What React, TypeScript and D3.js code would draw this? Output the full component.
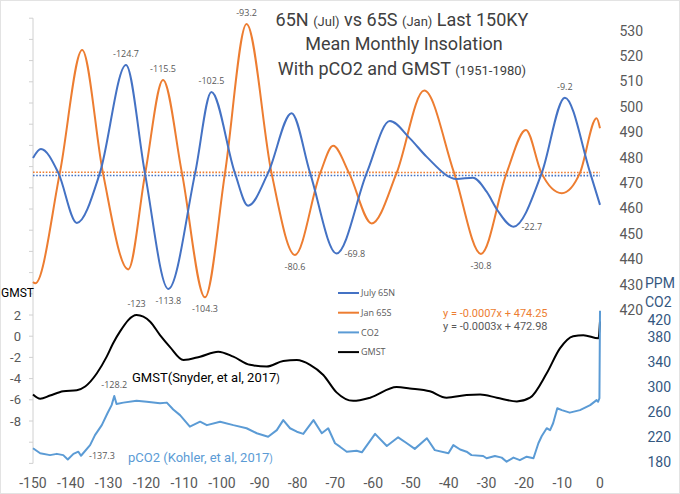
import * as d3 from 'd3';

// time in kyr (negative = before present)
const july65N: [number, number][] = [
  [-150, 479.9], [-147.9, 483.4], [-143.3, 474], [-138.4, 454.3], [-132.3, 474],
  [-125.4, 516.5], [-120.4, 474], [-114.2, 428.3], [-107.1, 474], [-102.8, 505.9],
  [-96.6, 474], [-93.1, 461.1], [-87.8, 474], [-81.6, 497.5], [-76.7, 474],
  [-69.7, 442.3], [-61.7, 474], [-55.6, 494.4], [-50.3, 487.6], [-45.9, 480.4],
  [-37.9, 471.6], [-33.6, 472.1], [-30, 466.6], [-27, 459], [-22.9, 452.8],
  [-15.4, 474], [-9.3, 503.6], [-2.6, 474], [0, 461.4],
];

const jan65S: [number, number][] = [
  [-150, 431], [-149.4, 430.5], [-142.9, 474], [-137, 522.4], [-131.5, 474],
  [-124.8, 436], [-120.3, 474], [-115.6, 510.6], [-110.6, 474], [-104.5, 425],
  [-99.2, 474], [-93.5, 532.6], [-86.9, 474], [-80.7, 441.7], [-74, 474],
  [-70.6, 484.7], [-66.4, 474], [-60.4, 454.1], [-53.8, 474], [-46.5, 506.4],
  [-38.6, 474], [-31.5, 442.1], [-24.7, 474], [-19.6, 490.9], [-15.5, 474],
  [-10.1, 466], [-5.3, 474], [-0.9, 495.5], [0, 491.6],
];

const gmst: [number, number][] = [
  [-150, -5.5], [-148.1, -5.9], [-145.5, -5.6], [-142, -5.2], [-138.4, -5.1],
  [-136.2, -4.75], [-133.1, -3.5], [-130.5, -1.93], [-128.8, -0.67], [-127, 0.43],
  [-122.6, 2.0], [-119, 1.37], [-116.4, 0.1], [-113.8, -1.0], [-110.2, -2.25],
  [-105.8, -1.93], [-101, -1.46], [-97, -1.93], [-92.6, -2.7], [-88.2, -2.87],
  [-83.8, -2.34], [-80.2, -2.25], [-76.7, -2.7], [-73.2, -3.66], [-69.7, -5.3],
  [-65.3, -6.1], [-60.8, -5.8], [-53.8, -4.8], [-50.3, -4.93], [-45, -5.2],
  [-40.6, -5.8], [-35.3, -5.55], [-31.7, -5.5], [-27.3, -5.8], [-22, -6.15],
  [-18.5, -5.8], [-14.1, -3.5], [-10.6, -1.15], [-7.1, 0.0], [-4.4, 0.1],
  [-0.4, -0.2], [0, 1.4],
];

const co2: [number, number][] = [
  [-150, 202], [-148.1, 194], [-145.5, 191], [-143.7, 193], [-142, 191],
  [-140.8, 184], [-139.3, 193], [-138, 196.5], [-137.3, 190], [-134.9, 207],
  [-133.6, 223], [-131.8, 239], [-130.3, 258], [-129.2, 271], [-128.5, 285.6],
  [-127.9, 272.8], [-126.1, 275], [-122.6, 278], [-119.9, 276.5], [-116.4, 274],
  [-114.6, 275], [-112.9, 264], [-111.1, 255], [-108.5, 236.5], [-105.8, 244.5],
  [-104, 239], [-100.5, 244.5], [-97, 239], [-93.5, 234], [-90.8, 226],
  [-87.8, 220.5], [-85.5, 231], [-83.8, 247], [-82, 234], [-80.2, 228.5],
  [-78.5, 225], [-75.8, 247], [-73.6, 226], [-71.9, 234], [-70.1, 210],
  [-68.8, 204.5], [-67, 196.5], [-64.4, 198], [-63, 195.5], [-59.5, 225],
  [-56.4, 205.6], [-53.4, 219.5], [-51.1, 210], [-49, 201], [-45.8, 218],
  [-43.7, 199], [-40.1, 194], [-38.8, 207], [-37, 200], [-35.3, 196.5],
  [-34, 191], [-30.9, 189.6], [-30, 186], [-27.8, 189.6], [-26, 187],
  [-24.7, 180.5], [-22.9, 187], [-21.2, 183], [-19.4, 188.5], [-17.6, 186],
  [-16.3, 210], [-15.4, 221.6], [-14.1, 234], [-13.2, 231], [-12.4, 242],
  [-11.3, 266], [-10.1, 263], [-8, 259], [-5.3, 263], [-2.6, 271],
  [-0.9, 279], [-0.5, 276.5], [-0.15, 282], [0, 422],
];

const xTicks = d3.range(-150, 1, 10);
const insTicks = d3.range(420, 531, 10);
const gmstTicks = d3.range(-12, 31, 2);
const gmstLabels = [-8, -6, -4, -2, 0, 2];
const co2Ticks = [180, 220, 260, 300, 340, 380, 420];

// Excel linear trendlines, x = point index (1 at -150 kyr)
const janTrend = { slope: -0.0007, intercept: 474.25, label: 'y = -0.0007x + 474.25' };
const julTrend = { slope: -0.0003, intercept: 472.98, label: 'y = -0.0003x + 472.98' };

type Note = { series: 'jul' | 'jan' | 'gmst' | 'co2'; t: number; text: string; pos: 'above' | 'below' | 'right' };
const notes: Note[] = [
  { series: 'jul', t: -125.4, text: '-124.7', pos: 'above' },
  { series: 'jan', t: -115.6, text: '-115.5', pos: 'above' },
  { series: 'jul', t: -102.8, text: '-102.5', pos: 'above' },
  { series: 'jan', t: -93.5, text: '-93.2', pos: 'above' },
  { series: 'jul', t: -9.3, text: '-9.2', pos: 'above' },
  { series: 'jul', t: -114.2, text: '-113.8', pos: 'below' },
  { series: 'jan', t: -104.5, text: '-104.3', pos: 'below' },
  { series: 'jan', t: -80.7, text: '-80.6', pos: 'below' },
  { series: 'jan', t: -31.5, text: '-30.8', pos: 'below' },
  { series: 'jul', t: -69.7, text: '-69.8', pos: 'right' },
  { series: 'jul', t: -22.9, text: '-22.7', pos: 'right' },
  { series: 'gmst', t: -122.6, text: '-123', pos: 'above' },
  { series: 'co2', t: -128.5, text: '-128.2', pos: 'above' },
  { series: 'co2', t: -137.3, text: '-137.3', pos: 'right' },
];

const BLUE = '#4472C4';
const ORANGE = '#ED7D31';
const LIGHTBLUE = '#5B9BD5';
const GREY = '#595959';
const CO2TXT = '#34577F';

export default function App() {
  const W = 680;
  const H = 494;

  const x = d3.scaleLinear().domain([-150, 0]).range([33, 600]);
  const yIns = d3.scaleLinear().domain([420, 530]).range([310, 30.7]);
  const yGmst = d3.scaleLinear().domain([-12, 30]).range([463.4, 18.2]);
  const yCo2 = d3.scaleLinear().domain([180, 420]).range([462, 312]);

  const insLine = d3.line<[number, number]>().x((d) => x(d[0])).y((d) => yIns(d[1])).curve(d3.curveMonotoneX);
  const gmstLine = d3.line<[number, number]>().x((d) => x(d[0])).y((d) => yGmst(d[1])).curve(d3.curveMonotoneX);
  const co2Line = d3.line<[number, number]>().x((d) => x(d[0])).y((d) => yCo2(d[1]));

  const trendPath = (tr: typeof janTrend) =>
    insLine.curve(d3.curveLinear)([
      [-150, tr.slope * 1 + tr.intercept],
      [0, tr.slope * 151 + tr.intercept],
    ]) ?? '';

  const seriesData = { jul: july65N, jan: jan65S, gmst, co2 };
  const seriesY = { jul: yIns, jan: yIns, gmst: yGmst, co2: yCo2 };

  const trendJan = trendPath(janTrend);
  const trendJul = trendPath(julTrend);
  insLine.curve(d3.curveMonotoneX);

  const font = 'Roboto, "Noto Sans", sans-serif';
  const smallFont = '"Open Sans", "Noto Sans", sans-serif';

  const legend = [
    { name: 'July 65N', color: BLUE },
    { name: 'Jan 65S', color: ORANGE },
    { name: 'CO2', color: LIGHTBLUE },
    { name: 'GMST', color: '#000' },
  ];

  return (
    <svg width={W} height={H} style={{ position: 'absolute', left: 0, top: 0, background: '#fff' }} fontFamily={font}>
      <rect x={0.5} y={0.5} width={W - 1} height={H - 1} fill="#fff" stroke="#e3e3e3" />

      {/* left axis */}
      <line x1={x(-150)} x2={x(-150)} y1={yGmst(30)} y2={yGmst(-12)} stroke="#d0d0d0" />
      {gmstTicks.map((t) => (
        <line key={t} x1={x(-150) - 4} x2={x(-150)} y1={yGmst(t)} y2={yGmst(t)} stroke="#d0d0d0" />
      ))}
      {gmstLabels.map((t) => (
        <text key={t} x={21} y={yGmst(t)} dy="0.35em" textAnchor="end" fontSize={13} fill={GREY}>
          {t}
        </text>
      ))}
      <text x={1} y={293} dy="0.35em" fontSize={12} fill="#000">GMST</text>

      {/* x axis labels */}
      {xTicks.map((t) => (
        <text key={t} x={x(t)} y={483} dy="0.35em" textAnchor="middle" fontSize={14} fill={GREY}>
          {t}
        </text>
      ))}

      {/* right insolation axis */}
      {insTicks.map((t) => (
        <text key={t} x={643} y={yIns(t)} dy="0.35em" textAnchor="end" fontSize={14} fill={GREY}>
          {t}
        </text>
      ))}

      {/* CO2 axis */}
      <text x={645} y={283} dy="0.35em" fontSize={14} fill={CO2TXT}>PPM</text>
      <text x={645} y={302} dy="0.35em" fontSize={14} fill={CO2TXT}>CO2</text>
      {co2Ticks.map((t) => (
        <text key={t} x={671} y={yCo2(t) + (t === 420 ? 8 : 0)} dy="0.35em" textAnchor="end" fontSize={14} fill={CO2TXT}>
          {t}
        </text>
      ))}

      {/* trendlines */}
      <path d={trendJan} fill="none" stroke={ORANGE} strokeWidth={1.6} strokeDasharray="1.6 1.6" />
      <path d={trendJul} fill="none" stroke={BLUE} strokeWidth={1.6} strokeDasharray="1.6 1.6" />

      {/* series */}
      <path d={insLine(jan65S) ?? ''} fill="none" stroke={ORANGE} strokeWidth={2} />
      <path d={insLine(july65N) ?? ''} fill="none" stroke={BLUE} strokeWidth={2} />
      <path d={gmstLine(gmst) ?? ''} fill="none" stroke="#000" strokeWidth={2} />
      <path d={co2Line(co2) ?? ''} fill="none" stroke={LIGHTBLUE} strokeWidth={2} strokeLinejoin="round" />

      {/* point labels */}
      {notes.map((n) => {
        const pt = seriesData[n.series].find((d) => d[0] === n.t)!;
        const px = x(pt[0]);
        const py = seriesY[n.series](pt[1]);
        const dx = n.pos === 'right' ? 8 : 0;
        const dy = n.pos === 'above' ? -11 : n.pos === 'below' ? 12 : 0;
        return (
          <text
            key={n.text}
            x={px + dx}
            y={py + dy}
            dy="0.35em"
            textAnchor={n.pos === 'right' ? 'start' : 'middle'}
            fontSize={9}
            fontFamily={smallFont}
            fill={GREY}
          >
            {n.text}
          </text>
        );
      })}

      {/* legend */}
      {legend.map((l, i) => (
        <g key={l.name} transform={`translate(338,${293 + i * 19.7})`}>
          <line x1={0} x2={21} y1={0} y2={0} stroke={l.color} strokeWidth={2} />
          <text x={23} y={0} dy="0.35em" fontSize={9} fontFamily={smallFont} fill={GREY}>
            {l.name}
          </text>
        </g>
      ))}

      <text x={443} y={312.7} dy="0.35em" fontSize={11} fill={ORANGE}>{janTrend.label}</text>
      <text x={443} y={325.7} dy="0.35em" fontSize={11} fill={GREY}>{julTrend.label}</text>

      <text x={132} y={377} dy="0.35em" fontSize={13} fill="#000">
        GMST(Snyder, et al, 2017<tspan fontSize={10}>)</tspan>
      </text>
      <text x={128} y={457} dy="0.35em" fontSize={13} fill={LIGHTBLUE}>
        pCO2 (Kohler, et al, 2017<tspan fontSize={10}>)</tspan>
      </text>

      {/* title */}
      <g fill="#404040" textAnchor="middle" fontSize={18}>
        <text x={402} y={20} dy="0.35em">
          65N <tspan fontSize={13}>(Jul)</tspan> vs 65S <tspan fontSize={13}>(Jan)</tspan> Last 150KY
        </text>
        <text x={404} y={44} dy="0.35em">Mean Monthly Insolation</text>
        <text x={402} y={69} dy="0.35em">
          With pCO2 and GMST <tspan fontSize={13}>(1951-1980)</tspan>
        </text>
      </g>
    </svg>
  );
}
